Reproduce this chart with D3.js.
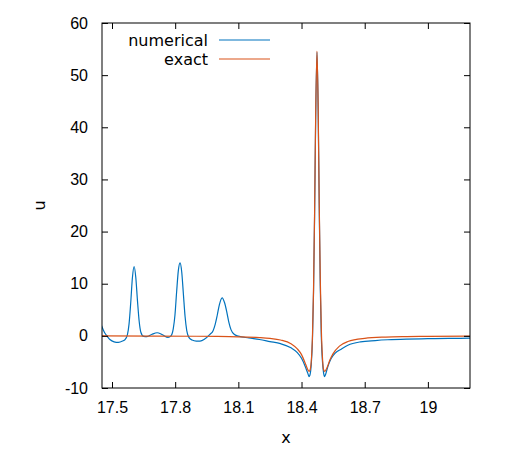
<!DOCTYPE html>
<html>
<head>
<meta charset="utf-8">
<script src="https://cdn.jsdelivr.net/npm/d3@7"></script>
<style>
  body { margin: 0; background: #fff; }
  svg { display: block; font-family: "DejaVu Sans", sans-serif; }
  .axis text { font-size: 16px; fill: #000; }
  .label { font-size: 16px; fill: #000; }
</style>
</head>
<body>
<div id="chart"></div>
<script>
// values
const xTicks = [17.5, 17.8, 18.1, 18.4, 18.7, 19];
const xTickLabels = ["17.5", "17.8", "18.1", "18.4", "18.7", "19"];
const yTicks = [-10, 0, 10, 20, 30, 40, 50, 60];

const numericalX = [
  17.45, 17.465, 17.476, 17.49, 17.51, 17.53, 17.55, 17.562, 17.573, 17.581,
  17.589, 17.597, 17.605, 17.613, 17.621, 17.629, 17.637, 17.65, 17.666, 17.69,
  17.714, 17.74, 17.766, 17.78, 17.791, 17.799, 17.807, 17.815, 17.823, 17.831,
  17.839, 17.847, 17.855, 17.865, 17.88, 17.9, 17.918, 17.94, 17.965, 17.98,
  17.99, 18.0, 18.01, 18.023, 18.035, 18.045, 18.055, 18.065, 18.08, 18.1,
  18.15, 18.2, 18.25, 18.3, 18.35, 18.38, 18.4, 18.42, 18.43, 18.4354,
  18.44, 18.446, 18.452, 18.457, 18.462, 18.467, 18.4734, 18.479, 18.484, 18.489,
  18.494, 18.5, 18.505, 18.5095, 18.515, 18.525, 18.54, 18.56, 18.59, 18.62,
  18.68, 18.75, 18.81, 18.9, 19.0, 19.1, 19.2
];
const numericalU = [
  2.0, 0.6, 0.0, -0.7, -1.15, -1.25, -1.0, -0.7, 0.2, 2.3,
  6.4, 11.2, 13.3, 11.2, 6.7, 2.8, 0.7, -0.1, -0.15, 0.3,
  0.6, 0.2, -0.3, 0.0, 1.4, 4.0, 8.5, 12.5, 14.0, 12.3,
  8.0, 3.7, 1.0, -0.3, -0.8, -1.0, -1.0, -0.6, 0.3, 1.0,
  2.2, 4.0, 6.0, 7.3, 6.3, 4.6, 2.6, 1.2, 0.3, -0.05,
  -0.4, -0.7, -1.1, -1.5, -2.3, -3.2, -4.3, -6.1, -7.2, -7.8,
  -7.5, -5.6, -0.6, 8.3, 22.9, 41.2, 54.4, 43, 25, 9.5,
  -0.3, -5.2, -7.2, -7.8, -7.3, -5.9, -4.4, -3.3, -2.5, -1.8,
  -1.15, -0.9, -0.75, -0.62, -0.54, -0.49, -0.45
];

const exactX = [
  17.45, 17.7, 17.9, 18.0, 18.1, 18.2, 18.25, 18.3, 18.35, 18.38,
  18.4, 18.42, 18.43, 18.436, 18.44, 18.446, 18.452, 18.457, 18.462, 18.467,
  18.4734, 18.479, 18.484, 18.489, 18.494, 18.5, 18.505, 18.5106, 18.52, 18.535,
  18.55, 18.58, 18.62, 18.7, 18.8, 18.9, 19.0, 19.2
];
const exactU = [
  -0.02, -0.04, -0.08, -0.11, -0.18, -0.33, -0.49, -0.79, -1.5, -2.5,
  -3.6, -5.5, -6.5, -6.8, -6.6, -5.0, 0.0, 8.9, 23.5, 41.8,
  54.6, 44, 25.5, 11, 1.3, -4.6, -6.5, -6.8, -6.2, -4.6,
  -3.4, -1.96, -1.09, -0.47, -0.23, -0.14, -0.09, -0.05
];

const seriesNames = ["numerical", "exact"];
const colors = ["#0072bd", "#d95319"];

const width = 509, height = 450;
const margin = { top: 23, right: 39, bottom: 62, left: 102 };

const svg = d3.select("#chart").append("svg")
  .attr("width", width)
  .attr("height", height);

const x = d3.scaleLinear()
  .domain([17.4525, 19.2])
  .range([margin.left, width - margin.right]);
const y = d3.scaleLinear()
  .domain([-10, 60])
  .range([height - margin.bottom, margin.top]);

const series = [
  d3.zip(numericalX, numericalU),
  d3.zip(exactX, exactU)
];

const line = d3.line()
  .x((d) => x(d[0]))
  .y((d) => y(d[1]))
  .curve(d3.curveMonotoneX);

svg.append("defs").append("clipPath").attr("id", "clip")
  .append("rect")
  .attr("x", margin.left).attr("y", margin.top)
  .attr("width", width - margin.left - margin.right)
  .attr("height", height - margin.top - margin.bottom);

// series lines, exact drawn on top
svg.append("g")
  .attr("clip-path", "url(#clip)")
  .selectAll("path")
  .data(series)
  .join("path")
  .attr("fill", "none")
  .attr("stroke", (d, i) => colors[i])
  .attr("stroke-width", 1.2)
  .attr("d", line);

// axes with inward ticks, mirrored on top and right
const tick = 6;
svg.append("g")
  .attr("class", "axis")
  .attr("transform", `translate(0,${height - margin.bottom})`)
  .call(d3.axisBottom(x).tickValues(xTicks)
    .tickFormat((d, i) => xTickLabels[i])
    .tickSizeInner(-tick).tickSizeOuter(0).tickPadding(14))
  .call((g) => g.select(".domain").remove());

svg.append("g")
  .attr("class", "axis")
  .attr("transform", `translate(0,${margin.top})`)
  .call(d3.axisTop(x).tickValues(xTicks).tickFormat("")
    .tickSizeInner(-tick).tickSizeOuter(0))
  .call((g) => g.select(".domain").remove());

svg.append("g")
  .attr("class", "axis")
  .attr("transform", `translate(${margin.left},0)`)
  .call(d3.axisLeft(y).tickValues(yTicks)
    .tickFormat((d) => String(d))
    .tickSizeInner(-tick).tickSizeOuter(0).tickPadding(14))
  .call((g) => g.select(".domain").remove());

svg.append("g")
  .attr("class", "axis")
  .attr("transform", `translate(${width - margin.right},0)`)
  .call(d3.axisRight(y).tickValues(yTicks).tickFormat("")
    .tickSizeInner(-tick).tickSizeOuter(0))
  .call((g) => g.select(".domain").remove());

svg.selectAll(".axis .tick line").attr("stroke", "#000");

svg.append("rect")
  .attr("x", margin.left).attr("y", margin.top)
  .attr("width", width - margin.left - margin.right)
  .attr("height", height - margin.top - margin.bottom)
  .attr("fill", "none")
  .attr("stroke", "#000")
  .attr("stroke-width", 1);

// axis labels
svg.append("text")
  .attr("class", "label")
  .attr("x", (margin.left + width - margin.right) / 2)
  .attr("y", 443)
  .attr("text-anchor", "middle")
  .text("x");

svg.append("text")
  .attr("class", "label")
  .attr("transform", `translate(45,${(margin.top + height - margin.bottom) / 2}) rotate(-90)`)
  .attr("text-anchor", "middle")
  .text("u");

// legend
const legend = svg.append("g")
  .selectAll("g")
  .data(seriesNames)
  .join("g")
  .attr("transform", (d, i) => `translate(0,${40 + i * 19})`);

legend.append("text")
  .attr("class", "label")
  .attr("x", 208)
  .attr("dy", "0.35em")
  .attr("text-anchor", "end")
  .text((d) => d);

legend.append("line")
  .attr("x1", 219).attr("x2", 270)
  .attr("stroke", (d, i) => colors[i])
  .attr("stroke-width", 1.2);
</script>
</body>
</html>
